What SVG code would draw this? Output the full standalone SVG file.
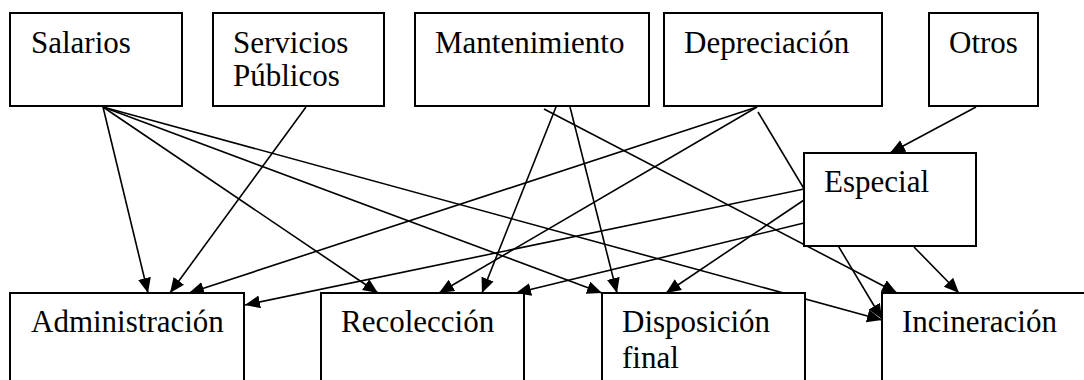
<svg xmlns="http://www.w3.org/2000/svg" width="1084" height="380" viewBox="0 0 1084 380">
  <style>
    .box { fill: #ffffff; stroke: #000000; stroke-width: 2; }
    .lbl { font-family: "Liberation Serif", "Times New Roman", serif; font-size: 31px; fill: #000000; }
    .conn line { stroke: #000000; stroke-width: 1.6; marker-end: url(#arrow); }
  </style>
  <defs>
    <marker id="arrow" markerUnits="userSpaceOnUse" markerWidth="16" markerHeight="14" refX="15" refY="6.5" orient="auto">
      <path d="M0,0 L15,6.5 L0,13 Z" fill="#000000"/>
    </marker>
  </defs>
  <rect width="1084" height="380" fill="#ffffff"/>

  <!-- connectors (drawn first so the boxes cover the parts that pass behind them) -->
  <g id="connectors" class="conn">
    <!-- Salarios -->
    <line x1="103" y1="107" x2="148" y2="293"/>
    <line x1="103" y1="107" x2="378" y2="293"/>
    <line x1="103" y1="107" x2="602" y2="293"/>
    <line x1="103" y1="107" x2="882" y2="320"/>
    <!-- Servicios Públicos -->
    <line x1="306" y1="107" x2="170" y2="293"/>
    <!-- Mantenimiento -->
    <line x1="556" y1="107" x2="482" y2="293"/>
    <line x1="570" y1="107" x2="617" y2="293"/>
    <line x1="544" y1="109" x2="897" y2="293"/>
    <!-- Depreciación -->
    <line x1="757" y1="107" x2="189" y2="293"/>
    <line x1="757" y1="107" x2="439" y2="293"/>
    <line x1="758" y1="112" x2="882" y2="319"/>
    <!-- Otros -->
    <line x1="976" y1="107" x2="890" y2="153"/>
    <!-- Especial -->
    <line x1="804" y1="189" x2="245" y2="305"/>
    <line x1="804" y1="223" x2="516" y2="293"/>
    <line x1="804" y1="200" x2="666" y2="293"/>
    <line x1="914" y1="247" x2="959" y2="293"/>
  </g>

  <!-- cost sources -->
  <g id="salarios">
    <rect class="box" x="10" y="13" width="172" height="93"/>
    <text class="lbl" x="31" y="53">Salarios</text>
  </g>
  <g id="servicios-publicos">
    <rect class="box" x="213" y="13" width="171" height="93"/>
    <text class="lbl" x="233" y="53">Servicios</text>
    <text class="lbl" x="233" y="86">Públicos</text>
  </g>
  <g id="mantenimiento">
    <rect class="box" x="415" y="13" width="234" height="93"/>
    <text class="lbl" x="435" y="53">Mantenimiento</text>
  </g>
  <g id="depreciacion">
    <rect class="box" x="664" y="13" width="218" height="93"/>
    <text class="lbl" x="684" y="53">Depreciación</text>
  </g>
  <g id="otros">
    <rect class="box" x="929" y="13" width="109" height="93"/>
    <text class="lbl" x="949" y="53">Otros</text>
  </g>
  <g id="especial">
    <rect class="box" x="804" y="153" width="172" height="93"/>
    <text class="lbl" x="824" y="192">Especial</text>
  </g>

  <!-- cost centres -->
  <g id="administracion">
    <rect class="box" x="10" y="293" width="234" height="120"/>
    <text class="lbl" x="31" y="332">Administración</text>
  </g>
  <g id="recoleccion">
    <rect class="box" x="321" y="293" width="203" height="120"/>
    <text class="lbl" x="341" y="332">Recolección</text>
  </g>
  <g id="disposicion-final">
    <rect class="box" x="602" y="293" width="203" height="120"/>
    <text class="lbl" x="622" y="332">Disposición</text>
    <text class="lbl" x="622" y="368">final</text>
  </g>
  <g id="incineracion">
    <rect class="box" x="882" y="293" width="230" height="120"/>
    <text class="lbl" x="902" y="332">Incineración</text>
  </g>
</svg>
